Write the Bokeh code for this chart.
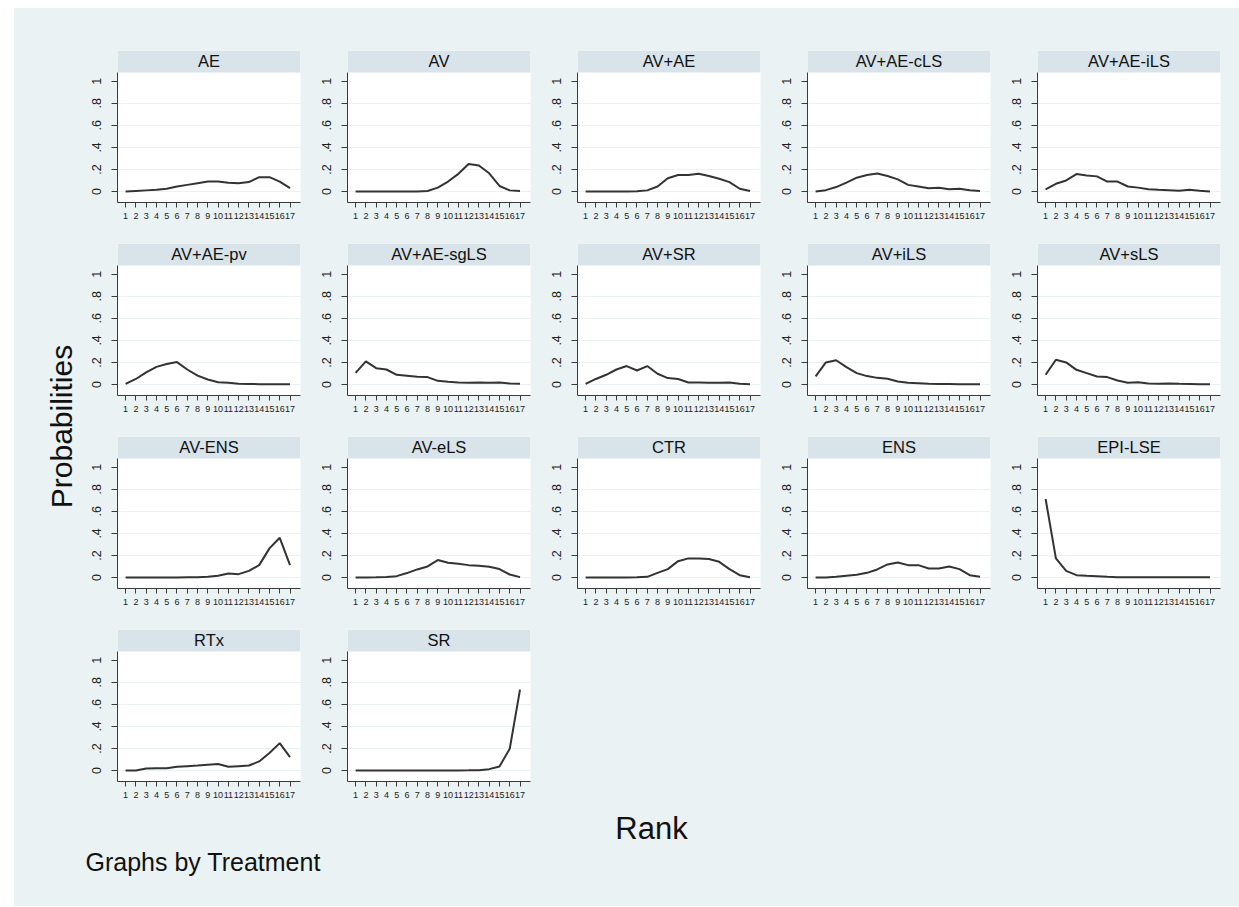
import math
from bokeh.plotting import figure
from bokeh.models import Range1d, FixedTicker, BoxAnnotation, Label, ColumnDataSource
from bokeh.layouts import row, column
from bokeh.embed import file_html
from bokeh.resources import INLINE

# ---------------- data ----------------
ranks = list(range(1, 18))
rank_tick_labels = [str(r) for r in ranks]
treatments = ["AE", "AV", "AV+AE", "AV+AE-cLS", "AV+AE-iLS",
              "AV+AE-pv", "AV+AE-sgLS", "AV+SR", "AV+iLS", "AV+sLS",
              "AV-ENS", "AV-eLS", "CTR", "ENS", "EPI-LSE",
              "RTx", "SR"]

p_ae = [0.0, 0.005, 0.01, 0.015, 0.025, 0.045, 0.06, 0.075, 0.09, 0.09, 0.08, 0.075, 0.085, 0.13, 0.13, 0.09, 0.03]
p_av = [0.0, 0.0, 0.0, 0.0, 0.0, 0.0, 0.0, 0.005, 0.035, 0.09, 0.16, 0.25, 0.235, 0.165, 0.05, 0.01, 0.005]
p_av_ae = [0.0, 0.0, 0.0, 0.0, 0.0, 0.002, 0.01, 0.045, 0.12, 0.15, 0.15, 0.16, 0.14, 0.115, 0.085, 0.025, 0.005]
p_av_ae_cls = [0.0, 0.012, 0.04, 0.08, 0.125, 0.15, 0.163, 0.14, 0.11, 0.06, 0.045, 0.03, 0.033, 0.02, 0.025, 0.012, 0.005]
p_av_ae_ils = [0.02, 0.07, 0.1, 0.158, 0.145, 0.137, 0.09, 0.09, 0.045, 0.035, 0.02, 0.015, 0.012, 0.006, 0.015, 0.006, 0.0]
p_av_ae_pv = [0.005, 0.05, 0.11, 0.16, 0.185, 0.203, 0.136, 0.08, 0.045, 0.02, 0.015, 0.006, 0.004, 0.003, 0.002, 0.001, 0.001]
p_av_ae_sgls = [0.105, 0.21, 0.148, 0.136, 0.088, 0.08, 0.07, 0.067, 0.033, 0.024, 0.018, 0.015, 0.017, 0.015, 0.017, 0.009, 0.006]
p_av_sr = [0.005, 0.05, 0.088, 0.136, 0.167, 0.127, 0.167, 0.097, 0.058, 0.05, 0.018, 0.018, 0.015, 0.015, 0.018, 0.006, 0.003]
p_av_ils = [0.073, 0.2, 0.22, 0.158, 0.103, 0.076, 0.06, 0.052, 0.027, 0.015, 0.012, 0.006, 0.005, 0.005, 0.003, 0.002, 0.003]
p_av_sls = [0.088, 0.224, 0.2, 0.133, 0.103, 0.073, 0.067, 0.036, 0.015, 0.021, 0.009, 0.006, 0.009, 0.006, 0.004, 0.002, 0.002]
p_av_ens = [0.0, 0.0, 0.0, 0.0, 0.0, 0.0, 0.001, 0.002, 0.006, 0.015, 0.036, 0.03, 0.06, 0.112, 0.264, 0.36, 0.112]
p_av_els = [0.0, 0.0, 0.001, 0.005, 0.012, 0.04, 0.073, 0.1, 0.158, 0.133, 0.125, 0.112, 0.106, 0.097, 0.076, 0.027, 0.003]
p_ctr = [0.0, 0.0, 0.0, 0.0, 0.0, 0.001, 0.006, 0.042, 0.076, 0.148, 0.173, 0.173, 0.167, 0.142, 0.076, 0.021, 0.003]
p_ens = [0.0, 0.0, 0.006, 0.015, 0.024, 0.042, 0.073, 0.118, 0.136, 0.112, 0.112, 0.082, 0.082, 0.1, 0.076, 0.021, 0.006]
p_epi_lse = [0.712, 0.173, 0.06, 0.021, 0.015, 0.012, 0.006, 0.003, 0.002, 0.001, 0.001, 0.001, 0.001, 0.001, 0.001, 0.001, 0.001]
p_rtx = [0.0, 0.0, 0.018, 0.021, 0.021, 0.033, 0.039, 0.045, 0.052, 0.058, 0.033, 0.039, 0.045, 0.082, 0.158, 0.248, 0.121]
p_sr = [0.0, 0.0, 0.0, 0.0, 0.0, 0.0, 0.0, 0.0, 0.0, 0.0, 0.0, 0.001, 0.003, 0.012, 0.036, 0.197, 0.733]

series = [p_ae, p_av, p_av_ae, p_av_ae_cls, p_av_ae_ils,
          p_av_ae_pv, p_av_ae_sgls, p_av_sr, p_av_ils, p_av_sls,
          p_av_ens, p_av_els, p_ctr, p_ens, p_epi_lse,
          p_rtx, p_sr]

y_ticks = [0, 0.2, 0.4, 0.6, 0.8, 1]
y_tick_labels = ["0", ".2", ".4", ".6", ".8", "1"]
grid_ticks = [0, 0.2, 0.4, 0.6, 0.8]

# ---------------- style ----------------
BG = "#eaf2f3"
STRIP = "#d8e3ea"
LINE = "#333333"
AXIS = "#3a3a3a"
FONT = "Liberation Sans"

X_LO, X_HI = 0.21, 18.02
Y_LO, Y_HI = -0.1, 1.279
STRIP_BOTTOM = 1.08

PANEL_W = 230
PANEL_H = 193
FRAME_H = 152
LEFT_W = 66
LEFT_B = 37
RIGHT_B = 10
TOP_B = 10
FIRST_ROW_EXTRA = 32
LAST_COL_EXTRA = 9
NCOLS = 5


def make_panel(name, vals, col_idx, row_idx):
    extra_r = LAST_COL_EXTRA if col_idx == NCOLS - 1 else 0
    extra_t = FIRST_ROW_EXTRA if row_idx == 0 else 0
    p = figure(width=PANEL_W + extra_r, height=PANEL_H + extra_t,
               x_range=Range1d(X_LO, X_HI), y_range=Range1d(Y_LO, Y_HI),
               output_backend="svg", toolbar_location=None,
               min_border_left=LEFT_B, min_border_right=RIGHT_B + extra_r,
               min_border_top=TOP_B + extra_t,
               min_border_bottom=PANEL_H - TOP_B - FRAME_H)
    p.background_fill_color = "white"
    p.border_fill_color = BG
    p.outline_line_color = None

    src = ColumnDataSource(dict(rank=ranks, prob=vals))
    p.line("rank", "prob", source=src, line_color=LINE, line_width=2)

    p.add_layout(BoxAnnotation(bottom=STRIP_BOTTOM, fill_color=STRIP, fill_alpha=1.0,
                               line_color=None, level="underlay"))
    p.add_layout(Label(x=(X_LO + X_HI) / 2, y=(STRIP_BOTTOM + Y_HI) / 2, text=name,
                       text_align="center", text_baseline="middle",
                       text_font=FONT, text_font_size="16.5px", text_color="#111111"))

    xa = p.xaxis[0]
    xa.ticker = FixedTicker(ticks=ranks)
    xa.major_label_overrides = {r: lab for r, lab in zip(ranks, rank_tick_labels)}
    xa.major_label_text_font = FONT
    xa.major_label_text_font_size = "9px"
    xa.major_label_text_color = "#222222"
    xa.major_label_standoff = 5
    xa.major_tick_in = 0
    xa.major_tick_out = 5
    xa.minor_tick_out = 0
    xa.minor_tick_in = 0
    xa.axis_line_color = AXIS
    xa.major_tick_line_color = AXIS

    ya = p.yaxis[0]
    ya.ticker = FixedTicker(ticks=y_ticks)
    ya.major_label_overrides = {t: lab for t, lab in zip(y_ticks, y_tick_labels)}
    ya.major_label_orientation = "vertical"
    ya.major_label_text_font = FONT
    ya.major_label_text_font_size = "12.5px"
    ya.major_label_text_color = "#222222"
    ya.major_label_standoff = 10
    ya.major_tick_in = 0
    ya.major_tick_out = 6
    ya.minor_tick_out = 0
    ya.minor_tick_in = 0
    ya.axis_line_color = AXIS
    ya.major_tick_line_color = AXIS
    ya.bounds = (Y_LO, STRIP_BOTTOM)

    p.xgrid.visible = False
    p.ygrid.ticker = FixedTicker(ticks=grid_ticks)
    p.ygrid.grid_line_color = BG
    p.ygrid.grid_line_width = 1.2
    return p


panel_rows = []
for r_i in range(0, math.ceil(len(treatments) / NCOLS)):
    figs = []
    for c_i in range(NCOLS):
        k = r_i * NCOLS + c_i
        if k >= len(treatments):
            break
        figs.append(make_panel(treatments[k], series[k], c_i, r_i))
    panel_rows.append(row(*figs, spacing=0))

grid_h = PANEL_H * len(panel_rows) + FIRST_ROW_EXTRA

left = figure(width=LEFT_W, height=grid_h, x_range=Range1d(0, LEFT_W), y_range=Range1d(0, grid_h),
              output_backend="svg", toolbar_location=None, min_border=0,
              x_axis_location=None, y_axis_location=None)
left.grid.visible = False
left.outline_line_color = None
left.background_fill_color = BG
left.border_fill_color = BG
left.add_layout(Label(x=47, y=grid_h - 418, text="Probabilities", angle=math.pi / 2,
                      text_align="center", text_baseline="middle",
                      text_font=FONT, text_font_size="30px", text_color="#111111"))

total_w = LEFT_W + PANEL_W * NCOLS + LAST_COL_EXTRA
BOT_H = 94
bottom = figure(width=total_w, height=BOT_H, x_range=Range1d(0, total_w), y_range=Range1d(0, BOT_H),
                output_backend="svg", toolbar_location=None, min_border=0,
                x_axis_location=None, y_axis_location=None)
bottom.grid.visible = False
bottom.outline_line_color = None
bottom.background_fill_color = BG
bottom.border_fill_color = BG
bottom.add_layout(Label(x=637, y=BOT_H - 16, text="Rank",
                        text_align="center", text_baseline="middle",
                        text_font=FONT, text_font_size="31px", text_color="#111111"))
bottom.add_layout(Label(x=71, y=BOT_H - 49, text="Graphs by Treatment",
                        text_align="left", text_baseline="middle",
                        text_font=FONT, text_font_size="25px", text_color="#111111"))

grid_col = column(*panel_rows, spacing=0, styles={"background-color": BG})
layout = column(row(left, grid_col, spacing=0, styles={"background-color": BG}),
                bottom, spacing=0, margin=(8, 0, 0, 14),
                styles={"background-color": BG})

open("out.html", "w").write(file_html(layout, INLINE))
